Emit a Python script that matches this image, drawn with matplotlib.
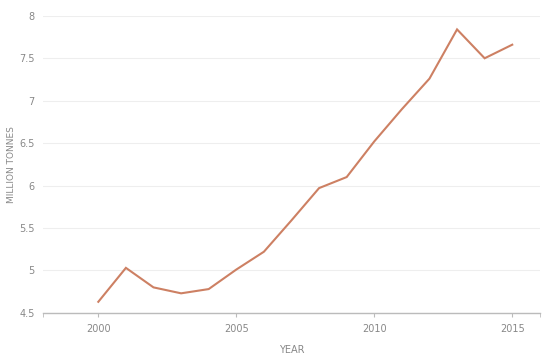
import matplotlib
matplotlib.use("Agg")
import matplotlib.pyplot as plt

years = [2000, 2001, 2002, 2003, 2004, 2005, 2006, 2007, 2008, 2009, 2010, 2011, 2012, 2013, 2014, 2015]
values = [4.63, 5.03, 4.80, 4.73, 4.78, 5.01, 5.22, 5.59, 5.97, 6.10, 6.52, 6.90, 7.26, 7.84, 7.50, 7.66]
xticks = [2000, 2005, 2010, 2015]
yticks = [4.5, 5, 5.5, 6, 6.5, 7, 7.5, 8]
ytick_labels = ["4.5", "5", "5.5", "6", "6.5", "7", "7.5", "8"]

fig = plt.figure(figsize=(5.6, 3.6), dpi=100)
ax = fig.add_axes([0.077, 0.131, 0.887, 0.825])
ax.plot(years, values, color="#cd8063", lw=1.5, solid_joinstyle="miter")
ax.set_xlim(1998, 2016)
ax.set_ylim(4.5, 8)
ax.set_xticks(xticks)
ax.set_xticks([1998, 2016], minor=True)
ax.set_yticks(yticks)
ax.set_yticklabels(ytick_labels)
for s in ["top", "right", "left"]:
    ax.spines[s].set_visible(False)
ax.spines["bottom"].set_color("#bbbbbb")
ax.spines["bottom"].set_linewidth(1)
ax.grid(axis="y", color="#eeeeee", lw=0.8)
ax.set_axisbelow(True)
ax.tick_params(axis="y", length=0, labelsize=7, labelcolor="#888888", pad=6)
ax.tick_params(axis="x", which="both", length=3, color="#bbbbbb", labelsize=7, labelcolor="#888888", pad=5)
ax.set_xlabel("YEAR", fontsize=7, color="#888888", labelpad=8)
fig.text(12 / 560, 1 - 165 / 360, "MILLION TONNES", rotation=90, fontsize=6.5,
         color="#888888", ha="center", va="center")
fig.savefig("out.png", dpi=100)
